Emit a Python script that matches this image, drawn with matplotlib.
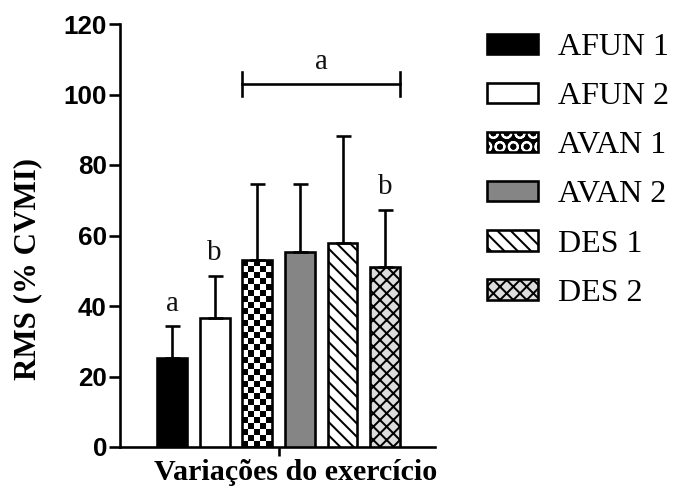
import numpy as np
import matplotlib
matplotlib.use('Agg')
import matplotlib.pyplot as plt
from matplotlib.patches import Patch
from matplotlib.legend_handler import HandlerTuple

DPI = 80


def px(p):
    # pixels -> points at this dpi
    return p * 72.0 / DPI


# dados
grupos = ['AFUN 1', 'AFUN 2', 'AVAN 1', 'AVAN 2', 'DES 1', 'DES 2']
medias = [25.2, 36.6, 53.0, 55.3, 57.9, 51.0]
desvios = [9.0, 12.0, 21.6, 19.3, 30.3, 16.2]
letras = ['a', 'b', '', '', '', 'b']
yticks = [0, 20, 40, 60, 80, 100, 120]

cores = ['black', 'white', 'none', '#858585', 'white', '#dcdcdc']
hachuras = [None, None, None, None, '\\\\', 'xx']

plt.rcParams['hatch.linewidth'] = px(2.0)
plt.rcParams['hatch.color'] = 'black'

fig = plt.figure(figsize=(682 / DPI, 493 / DPI), dpi=DPI)
ax = fig.add_axes([120 / 682, 1 - 447 / 493, 315 / 682, 423 / 493])

x = np.arange(len(grupos))
lw = px(2.6)
barras = ax.bar(x, medias, width=0.70, color=cores, edgecolor='black',
                linewidth=lw, zorder=3)
for b, h in zip(barras, hachuras):
    if h:
        b.set_hatch(h)

ax.errorbar(x, medias, yerr=[np.zeros(len(x)), desvios], fmt='none',
            ecolor='black', elinewidth=lw, capsize=px(7.5), capthick=lw,
            zorder=4)

xlim = (-1.22, 6.17)
ax.set_xlim(*xlim)
ax.set_ylim(0, 120)

# xadrez da barra AVAN 1
r = barras[2]
x0, w, h = r.get_x(), r.get_width(), r.get_height()
p0 = ax.transData.transform((x0, 0))
p1 = ax.transData.transform((x0 + w, h))
ncol = 5
cel = (p1[0] - p0[0]) / ncol
nlin = int(round((p1[1] - p0[1]) / cel))
xadrez = np.add.outer(np.arange(nlin), np.arange(ncol)) % 2
ax.imshow(xadrez, cmap='gray', origin='lower', extent=(x0, x0 + w, 0, h),
          interpolation='nearest', aspect='auto', zorder=2)
ax.set_xlim(*xlim)
ax.set_ylim(0, 120)

# letras de significancia
for xi, m, d, t in zip(x, medias, desvios, letras):
    if t:
        ax.text(xi, m + d + 2.8, t, ha='center', va='bottom',
                fontfamily='Liberation Serif', fontsize=px(29), color='#111111')

# barra horizontal "a"
xa = barras[2].get_x()
xb = barras[5].get_x() + barras[5].get_width()
yb = 103.0
ax.plot([xa, xb], [yb, yb], color='black', lw=lw, clip_on=False)
ax.plot([xa, xa], [yb - 3.3, yb + 3.3], color='black', lw=lw, clip_on=False)
ax.plot([xb, xb], [yb - 3.3, yb + 3.3], color='black', lw=lw, clip_on=False)
ax.text((xa + xb) / 2, yb + 2.5, 'a', ha='center', va='bottom',
        fontfamily='Liberation Serif', fontsize=px(29), color='#111111')

# eixos
for s in ['top', 'right']:
    ax.spines[s].set_visible(False)
for s in ['left', 'bottom']:
    ax.spines[s].set_linewidth(lw)
ax.set_yticks(yticks)
ax.set_yticklabels([str(v) for v in yticks], fontfamily='Liberation Sans',
                   fontweight='bold', fontsize=px(26))
ax.set_xticks([2.5])
ax.set_xticklabels([''])
ax.tick_params(axis='y', length=px(11), width=lw, pad=px(2))
ax.tick_params(axis='x', length=px(9), width=lw)

ax.set_xlabel('Variações do exercício', fontfamily='Liberation Serif',
              fontweight='bold', fontsize=px(30), va='center')
ax.xaxis.set_label_coords((296 - 120) / 315, -(472 - 447) / 423)
ax.set_ylabel('RMS (% CVMI)', fontfamily='Liberation Serif',
              fontweight='bold', fontsize=px(31), va='center')
ax.yaxis.set_label_coords((28 - 120) / 315, (447 - 269) / 423)

# legenda
h_avan1 = (Patch(facecolor='black', edgecolor='white', hatch='O', linewidth=0),
           Patch(fill=False, edgecolor='black', linewidth=lw))
handles = [barras[0], barras[1], h_avan1, barras[3], barras[4], barras[5]]
fig.legend(handles, grupos, loc='upper left',
           bbox_to_anchor=(487 / 682, 1 - 33 / 493),
           bbox_transform=fig.transFigure, frameon=False,
           prop={'family': 'Liberation Serif', 'size': px(32)},
           handlelength=1.6, handleheight=0.6, handletextpad=0.62,
           labelspacing=0.63, borderpad=0, borderaxespad=0,
           handler_map={tuple: HandlerTuple(ndivide=1)})

fig.savefig('out.png', dpi=DPI)
